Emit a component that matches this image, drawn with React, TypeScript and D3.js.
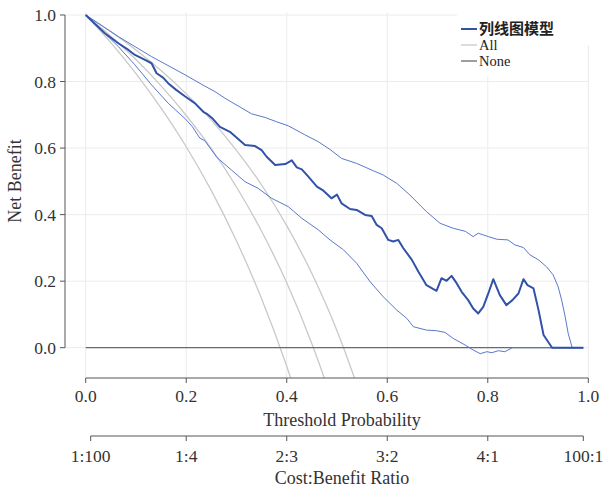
import * as d3 from "d3";
import React from "react";

// standardized net benefit, [threshold, net benefit]
const modelCurve: [number, number][] = [
  [0, 1], [0.038, 0.945], [0.065, 0.915], [0.085, 0.895], [0.098, 0.88], [0.118, 0.865], [0.131, 0.855],
  [0.141, 0.825], [0.154, 0.812], [0.164, 0.795], [0.18, 0.775], [0.198, 0.755], [0.217, 0.735], [0.234, 0.709],
  [0.241, 0.703], [0.253, 0.688], [0.267, 0.664], [0.287, 0.649], [0.3, 0.632], [0.317, 0.609], [0.337, 0.606],
  [0.35, 0.594], [0.36, 0.574], [0.377, 0.549], [0.397, 0.552], [0.41, 0.563], [0.42, 0.542], [0.43, 0.536],
  [0.443, 0.514], [0.46, 0.484], [0.473, 0.472], [0.489, 0.449], [0.5, 0.46], [0.509, 0.434], [0.526, 0.417],
  [0.539, 0.414], [0.556, 0.399], [0.569, 0.396], [0.579, 0.369], [0.589, 0.359], [0.602, 0.324], [0.612, 0.319],
  [0.622, 0.324], [0.632, 0.299], [0.649, 0.264], [0.662, 0.228], [0.668, 0.213], [0.678, 0.188], [0.698, 0.171],
  [0.708, 0.209], [0.718, 0.201], [0.728, 0.216], [0.738, 0.194], [0.748, 0.168], [0.761, 0.143], [0.771, 0.118],
  [0.781, 0.103], [0.791, 0.123], [0.801, 0.163], [0.811, 0.206], [0.824, 0.158], [0.837, 0.128], [0.849, 0.143],
  [0.861, 0.163], [0.871, 0.206], [0.879, 0.188], [0.891, 0.178], [0.901, 0.113], [0.911, 0.038], [0.928, 0],
  [0.99, 0],
];

const upperCI: [number, number][] = [
  [0, 1], [0.065, 0.935], [0.131, 0.875], [0.198, 0.82], [0.236, 0.787], [0.257, 0.77], [0.277, 0.75],
  [0.304, 0.726], [0.33, 0.703], [0.357, 0.692], [0.38, 0.679], [0.403, 0.667], [0.436, 0.64], [0.463, 0.619],
  [0.486, 0.596], [0.509, 0.569], [0.539, 0.554], [0.572, 0.532], [0.592, 0.519], [0.619, 0.494], [0.645, 0.459],
  [0.678, 0.409], [0.705, 0.374], [0.731, 0.359], [0.755, 0.35], [0.771, 0.334], [0.781, 0.344], [0.801, 0.334],
  [0.818, 0.326], [0.84, 0.324], [0.854, 0.309], [0.871, 0.301], [0.884, 0.279], [0.901, 0.264], [0.917, 0.243],
  [0.93, 0.219], [0.94, 0.183], [0.947, 0.143], [0.954, 0.093], [0.96, 0.043], [0.968, 0], [0.99, 0],
];

const lowerCI: [number, number][] = [
  [0, 1], [0.065, 0.905], [0.098, 0.85], [0.131, 0.79], [0.164, 0.735], [0.198, 0.688], [0.212, 0.665],
  [0.227, 0.63], [0.237, 0.622], [0.261, 0.572], [0.29, 0.534], [0.317, 0.499], [0.343, 0.479],
  [0.37, 0.449], [0.403, 0.424], [0.43, 0.389], [0.463, 0.354], [0.486, 0.324], [0.513, 0.294], [0.539, 0.254],
  [0.566, 0.198], [0.592, 0.153], [0.619, 0.113], [0.639, 0.088], [0.652, 0.063], [0.678, 0.053], [0.698, 0.051],
  [0.715, 0.046], [0.731, 0.028], [0.755, 0.008], [0.771, -0.007], [0.785, -0.018], [0.798, -0.012],
  [0.808, -0.015], [0.821, -0.009], [0.834, -0.012], [0.849, 0], [0.99, 0],
];

// treat-all curves (estimate and its two bounds)
const allLow: [number, number][] = [
  [0, 1], [0.05, 0.917], [0.1, 0.824], [0.15, 0.72], [0.2, 0.604], [0.25, 0.472], [0.3, 0.321],
  [0.35, 0.147], [0.4, -0.056], [0.42, -0.147],
];
const allMid: [number, number][] = [
  [0, 1], [0.05, 0.936], [0.1, 0.866], [0.15, 0.787], [0.2, 0.698], [0.25, 0.598], [0.3, 0.483],
  [0.35, 0.35], [0.4, 0.195], [0.45, 0.012], [0.47, -0.071], [0.49, -0.16],
];
const allHigh: [number, number][] = [
  [0, 1], [0.05, 0.95], [0.1, 0.895], [0.15, 0.833], [0.2, 0.763], [0.25, 0.684], [0.3, 0.593],
  [0.35, 0.489], [0.4, 0.367], [0.45, 0.223], [0.5, 0.051], [0.53, -0.071], [0.55, -0.16],
];
const noneCurve: [number, number][] = [[0, 0], [0.99, 0]];

const xTicks = [0, 0.2, 0.4, 0.6, 0.8, 1.0];
const yTicks = [0, 0.2, 0.4, 0.6, 0.8, 1.0];
const ratioTicks = [1 / 101, 0.2, 0.4, 0.6, 0.8, 100 / 101];
const ratioLabels = ["1:100", "1:4", "2:3", "3:2", "4:1", "100:1"];
const legendLabels = ["列线图模型", "All", "None"];

const W = 603;
const H = 490;
const serif = "'Liberation Serif', 'Times New Roman', serif";
const blue = "#3152a8";
const ciBlue = "#5a78cc";
const grey = "#c9c9c9";
const noneGrey = "#6a6a6a";
const axisColor = "#555";

export default function App() {
  const x = d3.scaleLinear().domain([0, 1]).range([85.7, 588.3]);
  const y = d3.scaleLinear().domain([0, 1]).range([347.7, 15]);
  const plotLeft = 65;
  const plotRight = x(1);
  const plotTop = 12;
  const plotBottom = 378;

  const line = d3.line<[number, number]>().x(d => x(d[0])).y(d => y(d[1]));
  const smooth = d3.line<[number, number]>().x(d => x(d[0])).y(d => y(d[1])).curve(d3.curveMonotoneX);

  return (
    <svg width={W} height={H} style={{ position: "absolute", left: 0, top: 0, background: "#fff" }} fontFamily={serif}>
      <defs>
        <clipPath id="plot">
          <rect x={plotLeft} y={plotTop} width={plotRight - plotLeft + 2} height={plotBottom - plotTop} />
        </clipPath>
      </defs>

      {/* grid */}
      {xTicks.map(t => (
        <line key={"gx" + t} x1={x(t)} x2={x(t)} y1={plotTop} y2={plotBottom} stroke="#ececec" strokeWidth={1} />
      ))}
      {yTicks.map(t => (
        <line key={"gy" + t} x1={plotLeft} x2={plotRight + 1} y1={y(t)} y2={y(t)} stroke="#ececec" strokeWidth={1} />
      ))}

      <g clipPath="url(#plot)" fill="none">
        {[allLow, allMid, allHigh].map((d, i) => (
          <path key={"all" + i} d={smooth(d) || ""} stroke={grey} strokeWidth={1.3} />
        ))}
        <path d={line(noneCurve) || ""} stroke={noneGrey} strokeWidth={1.3} />
        <path d={line(upperCI) || ""} stroke={ciBlue} strokeWidth={1} />
        <path d={line(lowerCI) || ""} stroke={ciBlue} strokeWidth={1} />
        <path d={line(modelCurve) || ""} stroke={blue} strokeWidth={2} strokeLinejoin="round" />
      </g>

      {/* y axis */}
      <line x1={plotLeft} x2={plotLeft} y1={y(1)} y2={y(0)} stroke={axisColor} />
      {yTicks.map(t => (
        <g key={"yt" + t}>
          <line x1={plotLeft - 5} x2={plotLeft} y1={y(t)} y2={y(t)} stroke={axisColor} />
          <text x={plotLeft - 9} y={y(t)} dy="0.35em" textAnchor="end" fontSize={17.5} fill="#333">
            {d3.format(".1f")(t)}
          </text>
        </g>
      ))}
      <text transform={`translate(21,181) rotate(-90)`} textAnchor="middle" fontSize={18} fill="#333">
        Net Benefit
      </text>

      {/* x axis */}
      <line x1={x(0)} x2={x(1)} y1={plotBottom} y2={plotBottom} stroke={axisColor} />
      {xTicks.map(t => (
        <g key={"xt" + t}>
          <line x1={x(t)} x2={x(t)} y1={plotBottom} y2={plotBottom + 5} stroke={axisColor} />
          <text x={x(t)} y={plotBottom + 24} textAnchor="middle" fontSize={17.5} fill="#333">
            {d3.format(".1f")(t)}
          </text>
        </g>
      ))}
      <text x={342} y={426} textAnchor="middle" fontSize={18} fill="#333">Threshold Probability</text>

      {/* cost:benefit axis */}
      <line x1={x(ratioTicks[0])} x2={x(ratioTicks[ratioTicks.length - 1])} y1={436} y2={436} stroke={axisColor} />
      {ratioTicks.map((t, i) => (
        <g key={"rt" + i}>
          <line x1={x(t)} x2={x(t)} y1={436} y2={441} stroke={axisColor} />
          <text x={x(t)} y={462} textAnchor="middle" fontSize={17.5} fill="#333">{ratioLabels[i]}</text>
        </g>
      ))}
      <text x={342} y={484} textAnchor="middle" fontSize={18} fill="#333">Cost:Benefit Ratio</text>

      {/* legend */}
      <rect x={457} y={6} width={134} height={39} fill="#fff" />
      <rect x={457} y={44} width={130} height={32} fill="#fff" />
      {legendLabels.map((lab, i) => {
        const ly = 29 + i * 16;
        const stroke = i === 0 ? blue : i === 1 ? grey : noneGrey;
        const sw = i === 0 ? 2 : 1.3;
        return (
          <g key={lab}>
            <line x1={461} x2={477} y1={ly} y2={ly} stroke={stroke} strokeWidth={sw} />
            <text
              x={479}
              y={ly}
              dy="0.35em"
              fontSize={i === 0 ? 15 : 14.5}
              fontWeight={i === 0 ? 700 : 400}
              fontFamily={i === 0 ? "'Noto Sans CJK SC', sans-serif" : serif}
              fill="#222"
            >
              {lab}
            </text>
          </g>
        );
      })}
    </svg>
  );
}
